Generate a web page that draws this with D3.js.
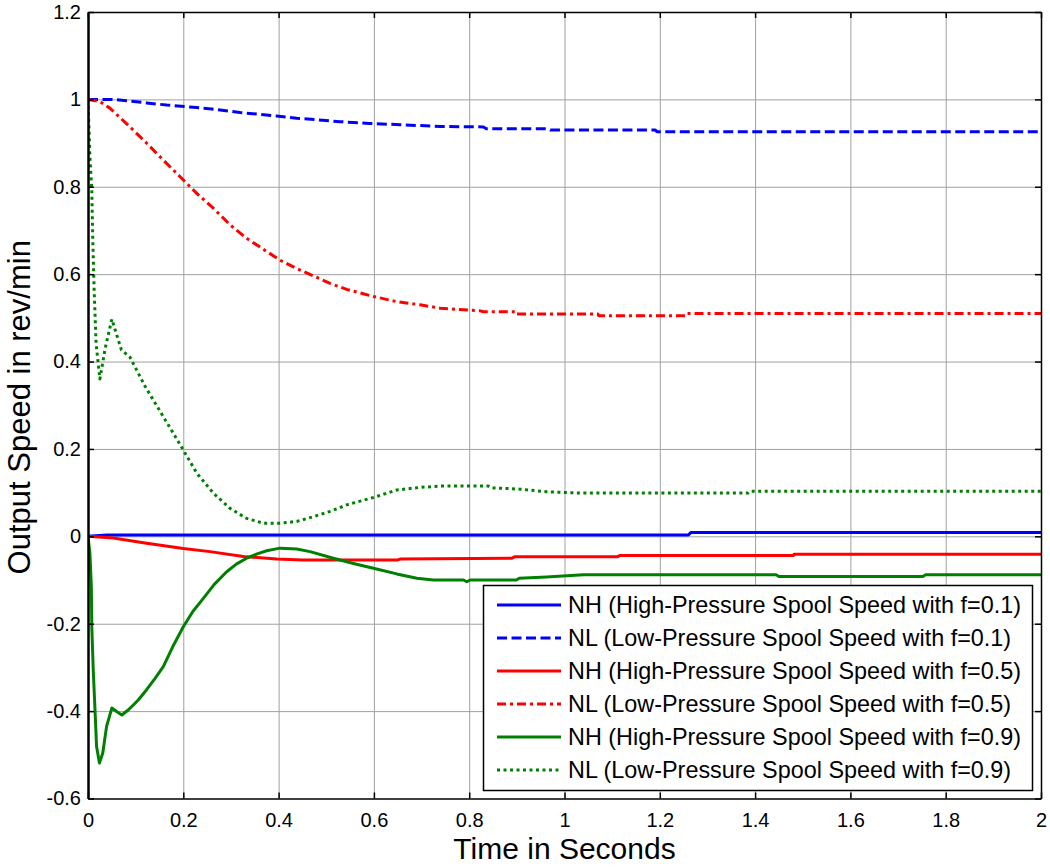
<!DOCTYPE html>
<html>
<head>
<meta charset="utf-8">
<script src="https://cdn.jsdelivr.net/npm/d3@7"></script>
<style>
    body { margin: 0; background: #fff; }
    text { font-family: "Liberation Sans", Arial, sans-serif; fill: #000; }
</style>
</head>
<body>
<svg id="chart" width="1050" height="867"></svg>
<script>
var xTicks = [0, 0.2, 0.4, 0.6, 0.8, 1, 1.2, 1.4, 1.6, 1.8, 2];
var xTickLabels = ["0", "0.2", "0.4", "0.6", "0.8", "1", "1.2", "1.4", "1.6", "1.8", "2"];
var yTicks = [-0.6, -0.4, -0.2, 0, 0.2, 0.4, 0.6, 0.8, 1, 1.2];
var yTickLabels = ["-0.6", "-0.4", "-0.2", "0", "0.2", "0.4", "0.6", "0.8", "1", "1.2"];

// [time, speed]
var nhF01 = [[0, 0], [0.04, 0.003], [1.26, 0.003], [1.265, 0.0085], [2, 0.0085]];
var nlF01 = [[0, 1], [0.05, 1], [0.081, 0.997], [0.123, 0.992], [0.165, 0.987], [0.221, 0.982],
    [0.26, 0.978], [0.319, 0.97], [0.396, 0.962], [0.438, 0.957], [0.529, 0.949], [0.591, 0.945],
    [0.655, 0.942], [0.739, 0.938], [0.83, 0.937], [0.836, 0.933], [0.965, 0.933], [0.97, 0.93],
    [1.19, 0.93], [1.194, 0.926], [2, 0.926]];
var nhF05 = [[0, 0], [0.053, -0.004], [0.123, -0.016], [0.2, -0.028], [0.256, -0.035], [0.326, -0.046],
    [0.396, -0.052], [0.45, -0.054], [0.65, -0.054], [0.655, -0.052], [0.89, -0.05], [0.895, -0.047],
    [1.11, -0.047], [1.116, -0.044], [1.48, -0.044], [1.482, -0.041], [2, -0.041]];
var nlF05 = [[0, 1], [0.025, 0.995], [0.046, 0.98], [0.088, 0.937], [0.123, 0.9], [0.158, 0.861],
    [0.196, 0.82], [0.231, 0.782], [0.263, 0.751], [0.298, 0.713], [0.333, 0.682], [0.368, 0.657],
    [0.403, 0.632], [0.438, 0.613], [0.473, 0.596], [0.508, 0.579], [0.543, 0.565], [0.599, 0.549],
    [0.648, 0.537], [0.697, 0.53], [0.739, 0.522], [0.823, 0.516], [0.83, 0.514], [0.899, 0.514],
    [0.9, 0.509], [1.07, 0.509], [1.072, 0.505], [1.256, 0.505], [1.258, 0.51], [2, 0.51]];
var nhF09 = [[0, 0], [0.004, -0.039], [0.007, -0.115], [0.008, -0.207], [0.011, -0.306], [0.015, -0.405],
    [0.018, -0.481], [0.024, -0.519], [0.031, -0.496], [0.039, -0.435], [0.05, -0.393], [0.06, -0.401],
    [0.071, -0.409], [0.085, -0.397], [0.105, -0.375], [0.123, -0.351], [0.14, -0.326], [0.158, -0.298],
    [0.18, -0.248], [0.2, -0.207], [0.22, -0.172], [0.242, -0.142], [0.265, -0.11], [0.291, -0.081],
    [0.312, -0.063], [0.333, -0.05], [0.355, -0.04], [0.375, -0.033], [0.403, -0.027], [0.438, -0.029],
    [0.466, -0.035], [0.515, -0.05], [0.557, -0.062], [0.599, -0.073], [0.648, -0.086], [0.69, -0.096],
    [0.725, -0.1], [0.788, -0.1], [0.795, -0.104], [0.802, -0.1], [0.899, -0.1], [0.905, -0.096],
    [0.962, -0.093], [1.04, -0.088], [1.444, -0.088], [1.45, -0.092], [1.752, -0.092], [1.758, -0.088],
    [2, -0.088]];
var nlF09 = [[0, 1], [0.004, 0.87], [0.008, 0.79], [0.01, 0.68], [0.013, 0.56], [0.017, 0.44],
    [0.022, 0.39], [0.025, 0.36], [0.036, 0.43], [0.05, 0.497], [0.07, 0.427], [0.088, 0.41],
    [0.12, 0.343], [0.158, 0.274], [0.196, 0.205], [0.228, 0.145], [0.263, 0.099], [0.298, 0.064],
    [0.333, 0.041], [0.368, 0.03], [0.403, 0.03], [0.438, 0.034], [0.473, 0.045], [0.508, 0.057],
    [0.543, 0.072], [0.599, 0.089], [0.648, 0.106], [0.697, 0.112], [0.739, 0.115], [0.84, 0.115],
    [0.847, 0.111], [0.907, 0.108], [0.962, 0.102], [1.033, 0.099], [1.385, 0.099], [1.389, 0.103],
    [2, 0.103]];

var seriesNames = [
    "NH (High-Pressure Spool Speed with f=0.1)",
    "NL (Low-Pressure Spool Speed with f=0.1)",
    "NH (High-Pressure Spool Speed with f=0.5)",
    "NL (Low-Pressure Spool Speed with f=0.5)",
    "NH (High-Pressure Spool Speed with f=0.9)",
    "NL (Low-Pressure Spool Speed with f=0.9)"
];
var seriesData = [nhF01, nlF01, nhF05, nlF05, nhF09, nlF09];
var seriesColors = ["#0000ff", "#0000ff", "#ff0000", "#ff0000", "#008000", "#008000"];
var seriesDashes = [null, "10,4.5", null, "9,4,3,4", null, "3,3.5"];

function drawChart() {
    var width = 1050, height = 867,
        margins = { top: 12, right: 9, bottom: 68.5, left: 88 };
    var svg = d3.select("#chart");
    var x0 = margins.left, x1 = width - margins.right,
        y0 = height - margins.bottom, y1 = margins.top;

    var xRange = d3.scaleLinear().domain([0, 2]).range([x0, x1]);
    var yRange = d3.scaleLinear().domain([-0.6, 1.2]).range([y0, y1]);

    // grid
    svg.append("g")
        .attr("transform", "translate(0," + y0 + ")")
        .call(d3.axisBottom(xRange).tickValues(xTicks.slice(1, -1)).tickSize(-(y0 - y1)).tickFormat(""))
        .call(function (g) { g.select(".domain").remove(); })
        .selectAll("line").attr("stroke", "#a0a0a0").attr("stroke-width", 1);
    svg.append("g")
        .attr("transform", "translate(" + x0 + ",0)")
        .call(d3.axisLeft(yRange).tickValues(yTicks.slice(1, -1)).tickSize(-(x1 - x0)).tickFormat(""))
        .call(function (g) { g.select(".domain").remove(); })
        .selectAll("line").attr("stroke", "#a0a0a0").attr("stroke-width", 1);

    // curves
    var lineFunc = d3.line()
        .x(function (d) { return xRange(d[0]); })
        .y(function (d) { return yRange(d[1]); });

    svg.append("defs").append("clipPath").attr("id", "plotClip")
        .append("rect").attr("x", x0).attr("y", y1).attr("width", x1 - x0).attr("height", y0 - y1);

    var plot = svg.append("g").attr("clip-path", "url(#plotClip)");
    seriesData.forEach(function (items, i) {
        plot.append("path")
            .attr("d", lineFunc(items))
            .attr("fill", "none")
            .attr("stroke", seriesColors[i])
            .attr("stroke-width", 3)
            .attr("stroke-linejoin", "round")
            .attr("stroke-dasharray", seriesDashes[i]);
    });

    // axes, ticks pointing inward
    var xAxis = d3.axisBottom(xRange).tickValues(xTicks).tickSizeInner(-6).tickSizeOuter(0).tickPadding(14)
        .tickFormat(function (d, i) { return xTickLabels[i]; });
    var yAxis = d3.axisLeft(yRange).tickValues(yTicks).tickSizeInner(-6).tickSizeOuter(0).tickPadding(7)
        .tickFormat(function (d, i) { return yTickLabels[i]; });

    var gx = svg.append("g").attr("transform", "translate(0," + y0 + ")").call(xAxis);
    var gy = svg.append("g").attr("transform", "translate(" + x0 + ",0)").call(yAxis);
    svg.append("g").attr("transform", "translate(0," + y1 + ")")
        .call(d3.axisTop(xRange).tickValues(xTicks).tickSizeInner(-6).tickSizeOuter(0).tickFormat(""));
    svg.append("g").attr("transform", "translate(" + x1 + ",0)")
        .call(d3.axisRight(yRange).tickValues(yTicks).tickSizeInner(-6).tickSizeOuter(0).tickFormat(""));

    svg.selectAll(".domain").attr("stroke", "#000").attr("stroke-width", 1.5);
    svg.selectAll(".tick line").filter(function () { return d3.select(this).attr("stroke") !== "#a0a0a0"; })
        .attr("stroke", "#000").attr("stroke-width", 1.5);
    gx.selectAll("text").style("font-size", "20px").attr("fill", "#000");
    gy.selectAll("text").style("font-size", "20px").attr("fill", "#000");
    gy.select(".domain").attr("stroke-width", 2.5);

    // axis titles
    svg.append("text")
        .attr("x", (x0 + x1) / 2)
        .attr("y", 859)
        .attr("text-anchor", "middle")
        .style("font-size", "30px")
        .text("Time in Seconds");
    svg.append("text")
        .attr("transform", "translate(30," + ((y0 + y1) / 2 + 2) + ") rotate(-90)")
        .attr("text-anchor", "middle")
        .style("font-size", "31px")
        .text("Output Speed in rev/min");

    // legend
    var legend = svg.append("g");
    legend.append("rect")
        .attr("x", 483.5).attr("y", 585.5)
        .attr("width", 549).attr("height", 205)
        .attr("fill", "#fff").attr("stroke", "#000").attr("stroke-width", 1.5);
    seriesNames.forEach(function (name, i) {
        var rowY = 605 + i * 33;
        legend.append("line")
            .attr("x1", 497).attr("x2", 561)
            .attr("y1", rowY).attr("y2", rowY)
            .attr("stroke", seriesColors[i])
            .attr("stroke-width", 3)
            .attr("stroke-dasharray", seriesDashes[i]);
        legend.append("text")
            .attr("x", 568).attr("y", rowY)
            .attr("dy", "0.35em")
            .style("font-size", "23.4px")
            .text(name);
    });
}

drawChart();
</script>
</body>
</html>
